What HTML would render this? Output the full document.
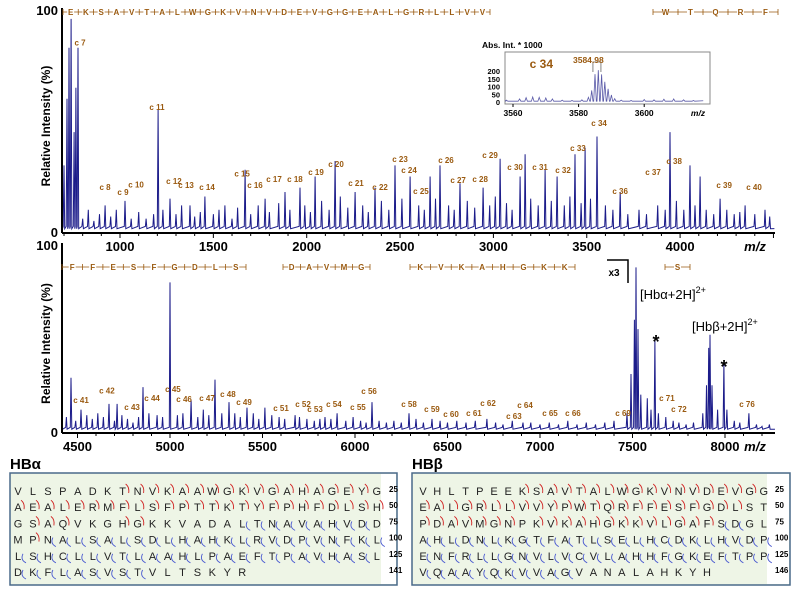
<!DOCTYPE html>
<html><head><meta charset="utf-8"><style>
html,body{margin:0;padding:0;background:#fff;}
svg{display:block;font-family:"Liberation Sans",sans-serif;}
</style></head><body>
<svg id="fig" width="800" height="592" viewBox="0 0 800 592" xmlns="http://www.w3.org/2000/svg">
<g id="top"></g>
<g id="bot"></g>
<g id="inset"></g>
<g id="seq"></g>
</svg>
<script>
// ---------- DATA ----------
const topPeaksMz=[700,716,727,738,754,764,775,920,1027,1204,1268,1375,1455,1562,1670,1777,1884,1964,2045,2152,2259,2366,2473,2554,2661,2714,2821,2945,3036,3143,3170,3277,3341,3437,3491,3555,3679,3946,4053,4107,4214,4348,4455];
const topPeaksInt=[30,60,83,96,45,65,83,12,14,55,15,12,16,12,28,15,18,20,25,32,18,20,30,25,25,30,22,20,33,25,35,28,25,35,38,43,18,45,30,25,15,12,10];
const topNoiseMz=[800,830,860,890,950,980,1060,1100,1140,1180,1230,1300,1330,1400,1430,1500,1530,1600,1630,1700,1740,1800,1850,1910,1990,2020,2080,2120,2180,2220,2300,2330,2400,2440,2510,2600,2630,2690,2760,2790,2860,2900,2980,3010,3070,3100,3200,3240,3310,3380,3410,3470,3520,3600,3640,3720,3780,3820,3880,3920,3980,4020,4080,4140,4180,4250,4290,4320,4400,4480];
const topNoiseInt=[6,10,5,8,7,10,6,9,6,8,10,8,12,7,9,8,10,6,11,8,12,9,13,10,12,9,14,10,16,11,12,9,14,10,15,12,10,15,12,10,14,11,12,16,13,10,15,12,14,12,16,13,15,12,10,8,10,8,12,10,14,10,12,10,8,10,8,9,8,7];
const topLabels=["c 7","c 8","c 9","c 10","c 11","c 12","c 13","c 14","c 15","c 16","c 17","c 18","c 19","c 20","c 21","c 22","c 23","c 24","c 25","c 26","c 27","c 28","c 29","c 30","c 31","c 32","c 33","c 34","c 36","c 37","c 38","c 39","c 40"];
const topLabelMz=[786,920,1016,1086,1198,1289,1354,1466,1654,1723,1825,1937,2050,2157,2264,2393,2500,2548,2612,2746,2811,2929,2982,3116,3250,3373,3453,3566,3679,3855,3968,4236,4396];
const topLabelInt=[84,19,16.7,20,55,21.6,19.8,18.9,25,19.8,22.5,22.5,25.7,29.3,20.7,18.9,31.5,26.6,17.1,31,22,22.5,33.3,28,28,26.6,36.5,47.7,17.1,25.7,30.6,19.8,18.9];
const topTicks=[1000,1500,2000,2500,3000,3500,4000];

const botPeaksMz=[4465,4519,4670,4714,4854,4886,5000,5114,5243,5319,5416,5513,5676,5838,5903,6092,6292,6416,6713,6908,7470,7492,7510,7519,7530,7545,7580,7600,7621,7640,7751,7880,7900,7912,7919,7930,7960,7994,8010,8129];
const botPeaksInt=[29,12,15,15,24,10,80,17,28,16,13,13,9,8,10,16,10,7,7,5,10,31,60,88,55,20,18,12,49,10,5,10,25,45,52,25,12,37,12,10];
const botNoiseMz=[4440,4490,4550,4580,4610,4640,4700,4740,4770,4800,4830,4930,4960,5040,5070,5150,5180,5210,5280,5350,5380,5450,5480,5550,5590,5620,5700,5740,5780,5810,5870,5950,5990,6030,6060,6130,6170,6210,6250,6330,6370,6460,6500,6550,6600,6650,6760,6800,6850,6950,7000,7050,7100,7150,7200,7250,7300,7350,7400,7680,7720,7790,7830,8050,8080,8170,8200,8240];
const botNoiseInt=[8,6,9,7,10,8,6,9,7,5,8,9,8,9,10,8,12,9,10,10,8,10,7,9,8,7,8,7,6,7,7,6,8,6,5,6,5,6,5,7,5,6,5,6,5,6,5,4,6,5,4,5,4,6,4,5,4,5,6,8,6,4,5,6,5,4,3,4];
const botLabels=["c 41","c 42","c 43","c 44","c 45","c 46","c 47","c 48","c 49","c 51","c 52","c 53","c 54","c 55","c 56","c 58","c 59","c 60","c 61","c 62","c 63","c 64","c 65","c 66","c 69","c 71","c 72","c 76"];
const botLabelMz=[4519,4659,4795,4903,5016,5076,5200,5313,5400,5600,5719,5784,5886,6016,6076,6292,6416,6519,6643,6719,6859,6919,7054,7178,7449,7686,7751,8119];
const botLabelInt=[15.4,20.7,11.7,16.5,21.3,16,16.5,18.6,14.4,11.2,13.3,10.6,13.3,11.7,20.2,13.3,10.6,8,8.5,13.8,6.9,12.8,8.5,8.5,8.5,16.5,10.6,13.3];
const botTicks=[4500,5000,5500,6000,6500,7000,7500,8000];

const insetMz=[3558,3562,3564,3566,3568,3570,3572,3575,3578,3581,3583,3584,3585,3586,3587,3588,3589,3590,3591,3593,3596,3600,3603,3606,3609,3612,3615];
const insetInt=[12,20,28,32,30,26,20,12,10,14,30,75,180,205,178,130,85,45,22,12,10,16,14,18,20,14,10];
const insetTicks=[3560,3580,3600];
const insetYTicks=[0,50,100,150,200];

// ---------- HELPERS ----------
const NS="http://www.w3.org/2000/svg";
function mk(parent,tag,attrs,text){const e=document.createElementNS(NS,tag);for(const k in attrs)e.setAttribute(k,attrs[k]);if(text!==undefined)e.textContent=text;parent.appendChild(e);return e;}
const NAVY="#1c1c8a",BROWN="#9a5a10";

function panel(g,cfg){
  const xs=m=>cfg.x0+(m-cfg.m0)*cfg.k;
  const ys=v=>cfg.yb-v*(cfg.yb-cfg.yt)/100;
  const pts=[];
  cfg.pm.forEach((m,i)=>pts.push([m,cfg.pi[i]]));
  cfg.nm.forEach((m,i)=>pts.push([m,cfg.ni[i]]));
  pts.sort((a,b)=>a[0]-b[0]);
  let d="M"+xs(cfg.mMin)+","+ys(1.5);
  pts.forEach(p=>{d+=" L"+xs(p[0]-4).toFixed(1)+","+ys(2.5).toFixed(1)+" L"+xs(p[0]).toFixed(1)+","+ys(p[1]).toFixed(1)+" L"+xs(p[0]+4).toFixed(1)+","+ys(1.5).toFixed(1);});
  d+=" L"+xs(cfg.mMax)+","+ys(1.5);
  const sp=mk(g,"path",{d:d,fill:"none",stroke:NAVY,"stroke-width":1});
  
  
  cfg.ll.forEach((t,i)=>{
    const el=mk(g,"text",{x:xs(cfg.lm[i]),y:ys(cfg.li[i]),"font-size":8,"font-weight":"bold",fill:BROWN,"text-anchor":"middle"},t);
    
    
  });
  mk(g,"line",{x1:cfg.x0a,y1:cfg.yt-2,x2:cfg.x0a,y2:cfg.yb+1,stroke:"#000","stroke-width":2});
  mk(g,"line",{x1:cfg.x0a,y1:cfg.yb+1,x2:775,y2:cfg.yb+1,stroke:"#000","stroke-width":2});
  for(let m=Math.ceil(cfg.mMin/100)*100;m<=cfg.mMax;m+=100){
    const major=m%500===0;
    mk(g,"line",{x1:xs(m),y1:cfg.yb+1,x2:xs(m),y2:cfg.yb+(major?6:4),stroke:"#000","stroke-width":1});
  }
  cfg.ticks.forEach(t=>{
    const el=mk(g,"text",{x:xs(t),y:cfg.yb+19,"font-size":13,"font-weight":"bold","text-anchor":"middle"},String(t));
    
    
  });
  const mz=mk(g,"text",{x:755,y:cfg.yb+19,"font-size":13,"font-weight":"bold","font-style":"italic","text-anchor":"middle"},"m/z");
  
  
  const y1=mk(g,"text",{x:cfg.x0a-4,y:cfg.yt+5,"font-size":13,"font-weight":"bold","text-anchor":"end"},"100");
  
  
  const y0=mk(g,"text",{x:cfg.x0a-4,y:cfg.yb+5,"font-size":13,"font-weight":"bold","text-anchor":"end"},"0");
  
  
  const cy=(cfg.yt+cfg.yb)/2+5;
  const yt=mk(g,"text",{x:0,y:0,transform:"translate(50,"+cy+") rotate(-90)","font-size":12,"font-weight":"bold","text-anchor":"middle"},"Relative Intensity (%)");
  
  
  return xs;
}

const gt=document.getElementById("top"),gb=document.getElementById("bot");
panel(gt,{x0:120,m0:1000,k:0.1867,x0a:62,mMin:692,mMax:4505,yt:10,yb:232,pm:topPeaksMz,pi:topPeaksInt,nm:topNoiseMz,ni:topNoiseInt,ll:topLabels,lm:topLabelMz,li:topLabelInt,ticks:topTicks});
panel(gb,{x0:170,m0:5000,k:0.185,x0a:62,mMin:4420,mMax:8270,yt:245,yb:432,pm:botPeaksMz,pi:botPeaksInt,nm:botNoiseMz,ni:botNoiseInt,ll:botLabels,lm:botLabelMz,li:botLabelInt,ticks:botTicks});

function seqBar(g,x1,x2,y,letters,name){
  const grp=mk(g,"g",{});
  
  
  mk(grp,"line",{x1:x1,y1:y,x2:x2,y2:y,stroke:BROWN,"stroke-width":0.8});
  mk(grp,"line",{x1:x1,y1:y-3,x2:x1,y2:y+3,stroke:BROWN,"stroke-width":0.8});
  mk(grp,"line",{x1:x2,y1:y-3,x2:x2,y2:y+3,stroke:BROWN,"stroke-width":0.8});
  const n=letters.length,step=(x2-x1)/n;
  letters.split("").forEach((c,i)=>{
    const cx=x1+step*(i+0.5);
    mk(grp,"rect",{x:cx-3.5,y:y-5,width:7,height:10,fill:"#fff"});
    mk(grp,"text",{x:cx,y:y+3,"font-size":8,"font-weight":"bold",fill:BROWN,"text-anchor":"middle"},c);
    if(i>0)mk(grp,"line",{x1:x1+step*i,y1:y-3,x2:x1+step*i,y2:y+3,stroke:BROWN,"stroke-width":0.8});
  });
}
seqBar(gt,63,490,12,"EKSAVTALWGKVNVDEVGGEALGRLLVV","top-sequence-bar");
seqBar(gt,653,778,12,"WTQRF","top-sequence-bar-2");
seqBar(gb,62,246,267,"FFESFGDLS","bottom-sequence-bar-1");
seqBar(gb,283,370,267,"DAVMG","bottom-sequence-bar-2");
seqBar(gb,410,575,267,"KVKAHGKK","bottom-sequence-bar-3");
seqBar(gb,665,690,267,"S","bottom-sequence-bar-4");

mk(gb,"path",{d:"M607,260 L628,260 L628,283",fill:"none",stroke:"#000","stroke-width":1.5});
const x3=mk(gb,"text",{x:614,y:276,"font-size":10,"font-weight":"bold","text-anchor":"middle"},"x3");


function ann(x,y,html,name){const t=mk(gb,"text",{x:x,y:y,"font-size":13});t.innerHTML=html;}
ann(640,299,'[Hbα+2H]<tspan dy="-6" font-size="9">2+</tspan>','hba-charge-label');
ann(692,331,'[Hbβ+2H]<tspan dy="-6" font-size="9">2+</tspan>','hbb-charge-label');
const a1=mk(gb,"text",{x:656,y:348,"font-size":18,"font-weight":"bold","text-anchor":"middle"},"*");

const a2=mk(gb,"text",{x:724,y:373,"font-size":18,"font-weight":"bold","text-anchor":"middle"},"*");


// ---------- INSET ----------
const gi=document.getElementById("inset");
const ix=m=>513+(m-3560)*3.28;
const iy=v=>102-v*(31/200);
mk(gi,"rect",{x:505,y:52,width:205,height:52,fill:"#fff",stroke:"#888","stroke-width":1});
const it=mk(gi,"text",{x:482,y:48,"font-size":8.5,"font-weight":"bold"},"Abs. Int. * 1000");

let idp="M"+ix(3558)+","+iy(8);
insetMz.forEach((m,i)=>{idp+=" L"+ix(m-0.4).toFixed(1)+","+iy(5).toFixed(1)+" L"+ix(m).toFixed(1)+","+iy(insetInt[i]).toFixed(1)+" L"+ix(m+0.4).toFixed(1)+","+iy(5).toFixed(1);});
idp+=" L"+ix(3618)+","+iy(8);
const ip=mk(gi,"path",{d:idp,fill:"none",stroke:"#5a5aa8","stroke-width":0.8});

insetYTicks.forEach(v=>{mk(gi,"text",{x:500,y:iy(v)+3,"font-size":7.5,"font-weight":"bold","text-anchor":"end"},String(v));});
insetTicks.forEach(v=>{mk(gi,"text",{x:ix(v),y:116,"font-size":8.5,"font-weight":"bold","text-anchor":"middle"},String(v));mk(gi,"line",{x1:ix(v),y1:104,x2:ix(v),y2:107,stroke:"#000"});});
mk(gi,"text",{x:698,y:116,"font-size":8.5,"font-weight":"bold","font-style":"italic","text-anchor":"middle"},"m/z");
const c34=mk(gi,"text",{x:553,y:68,"font-size":12,"font-weight":"bold",fill:BROWN,"text-anchor":"end"},"c 34");

mk(gi,"path",{d:"M"+(ix(3584.98)-2)+",72 L"+(ix(3584.98)-2)+",62 L"+(ix(3584.98)+6)+",62 L"+(ix(3584.98)+6)+",72",fill:"none",stroke:"#666","stroke-width":0.8});
mk(gi,"text",{x:573,y:63,"font-size":8.5,"font-weight":"bold",fill:BROWN},"3584.98");

// ---------- SEQUENCES ----------
const gs=document.getElementById("seq");
const alphaRows=["VLSPADKTNVKAAWGKVGAHAGEYG","AEALERMFLSFPTTKTYFPHFDLSH","GSAQVKGHGKKVADALTNAVAHVDD","MPNALSALSDLHAHKLRVDPVNFKL","LSHCLLVTLAAHLPAEFTPAVHASL","DKFLASVSTVLTSKYR"];
const alphaMarks=["       rrrrrrrrrrrrrrrrr","rrrrrrrrrrrrrrrrrrrrrrrrr"," rrr   rr      bbbbbbbbb "," rbbbbbbbbbbbbbbbbbbbbbbb","bbbbbbbbbbbbbbbbbbbbbbbb ","bbbbbbbbb"];
const betaRows=["VHLTPEEKSAVTALWGKVNVDEVGG","EALGRLLVVYPWTQRFFESFGDLST","PDAVMGNPKVKAHGKKVLGAFSDGL","AHLDNLKGTFATLSELHCDKLHVDP","ENFRLLGNVLVCVLAHHFGKEFTPP","VQAAYQKVVAGVANALAHKYH"];
const betaMarks=["       rrrrrrrrrrrrrrrrr","rrrrrrrrrrrrrrrrrrrrrrr  ","rrrrrrr rrrrrrrrrrrrrbb  ","bbbbbbbbbbbbbbbbbbbbbbbbb","bbbbbbbbbbbbbbbbbbbbbbbbb","bbbbbbbbbbb"];
const alphaNums=["25","50","75","100","125","141"];
const betaNums=["25","50","75","100","125","146"];
function seqBox(x,w,title,rows,marks,nums,lx0,step,numx,name){
  const g=mk(gs,"g",{});
  
  
  const tt=mk(g,"text",{x:x,y:469,"font-size":15,"font-weight":"bold"},title);
  
  mk(g,"rect",{x:x,y:473,width:w,height:112,fill:"#eef5e6",stroke:"#4a6a8a","stroke-width":1.5});
  mk(g,"rect",{x:numx-8,y:474,width:x+w-numx+7,height:110,fill:"#fff"});
  rows.forEach((r,ri)=>{
    const y=495+ri*16.2;
    r.split("").forEach((c,i)=>{
      const cx=lx0+i*step;
      mk(g,"text",{x:cx,y:y,"font-size":11,"text-anchor":"middle",fill:"#222"},c);
      const mkc=marks[ri][i];
      if(mkc==="r")mk(g,"path",{d:"M"+(cx+3)+","+(y-11)+" q4,3 3,9",fill:"none",stroke:"#d02020","stroke-width":0.9});
      if(mkc==="b")mk(g,"path",{d:"M"+(cx+5)+","+(y-6)+" q-3,6 3,9",fill:"none",stroke:"#4a5ad0","stroke-width":0.9});
    });
    mk(g,"text",{x:numx,y:y-3,"font-size":8,"font-weight":"bold"},nums[ri]);
  });
}
seqBox(10,387,"HBα",alphaRows,alphaMarks,alphaNums,18,14.95,389,"hb-alpha-sequence");
seqBox(412,378,"HBβ",betaRows,betaMarks,betaNums,423,14.2,775,"hb-beta-sequence");
</script>
</body></html>
